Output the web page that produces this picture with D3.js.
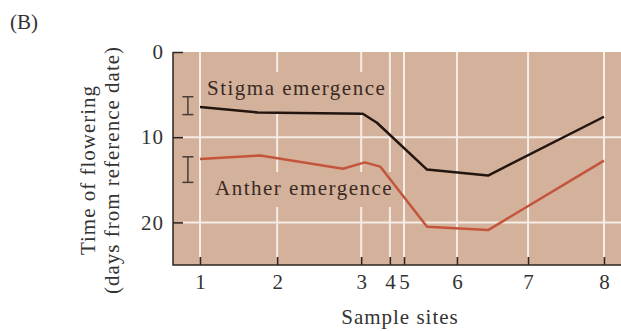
<!DOCTYPE html>
<html>
<head>
<meta charset="utf-8">
<script src="https://cdn.jsdelivr.net/npm/d3@7"></script>
<style>
  body { margin: 0; background: #fff; }
  svg { display: block; }
  text { font-family: "Liberation Serif", serif; }
</style>
</head>
<body>
<script>
// site positions along the transect (relative distance, site 1 = 0, site 8 = 100)
var siteLabels = ["1", "2", "3", "4", "5", "6", "7", "8"];
var siteDist = [0, 19.1, 39.9, 47.0, 50.5, 63.6, 81.2, 100];

// stigma emergence (days from reference date)
var stigmaDist = [0, 14.3, 40.3, 43.8, 56.2, 71.3, 100];
var stigmaDays = [6.45, 7.1, 7.25, 8.3, 13.8, 14.5, 7.6];

// anther emergence
var antherDist = [0, 14.9, 35.4, 40.8, 44.6, 56.2, 71.3, 100];
var antherDays = [12.55, 12.15, 13.7, 12.95, 13.45, 20.5, 20.9, 12.75];

// representative error bars drawn at the left
var errDist = -3;
var errMean = [6.3, 13.8];
var errHalf = [1.05, 1.5];

var yTicks = [0, 10, 20];

var width = 621, height = 331;
var pLeft = 173, pRight = 621, pTop = 52, pBottom = 265;

var svg = d3.select("body").append("svg")
    .attr("width", width)
    .attr("height", height);

var x = d3.scaleLinear().domain([0, 100]).range([200, 604]);
var y = d3.scaleLinear().domain([0, 25]).range([pTop, pBottom]);

var bg = "#d3b19b";
var grid = "#f6ede6";
var ink = "#2e2420";

svg.append("rect")
    .attr("x", pLeft).attr("y", pTop)
    .attr("width", pRight - pLeft).attr("height", pBottom - pTop)
    .attr("fill", bg);

// gridlines
svg.append("g").selectAll("line")
    .data(siteDist)
    .enter().append("line")
      .attr("x1", function(d) { return x(d); })
      .attr("x2", function(d) { return x(d); })
      .attr("y1", pTop)
      .attr("y2", pBottom - 8)
      .attr("stroke", grid)
      .attr("stroke-width", 2);

svg.append("g").selectAll("line")
    .data([10, 20])
    .enter().append("line")
      .attr("x1", pLeft + 10)
      .attr("x2", pRight)
      .attr("y1", function(d) { return y(d); })
      .attr("y2", function(d) { return y(d); })
      .attr("stroke", grid)
      .attr("stroke-width", 2);

// series labels with plot-coloured backing that breaks the grid
function seriesLabel(txt, bx, by, bw, bh, tx, ty) {
  svg.append("rect")
      .attr("x", bx).attr("y", by)
      .attr("width", bw).attr("height", bh)
      .attr("fill", bg);
  svg.append("text")
      .attr("x", tx).attr("y", ty)
      .attr("font-size", 21)
      .attr("letter-spacing", 1.5)
      .attr("fill", "#3a2a24")
      .text(txt);
}
seriesLabel("Stigma emergence", 203, 72, 182, 40, 207, 95);
seriesLabel("Anther emergence", 212, 172, 180, 35, 215, 195);

// error bars
var errG = svg.append("g")
    .attr("stroke", "#4a3c34")
    .attr("stroke-width", 1.5)
    .attr("fill", "none");
errMean.forEach(function(m, i) {
  var cx = x(errDist);
  var y0 = y(m - errHalf[i]), y1 = y(m + errHalf[i]);
  errG.append("line").attr("x1", cx).attr("x2", cx).attr("y1", y0).attr("y2", y1);
  errG.append("line").attr("x1", cx - 5.5).attr("x2", cx + 5.5).attr("y1", y0).attr("y2", y0);
  errG.append("line").attr("x1", cx - 5.5).attr("x2", cx + 5.5).attr("y1", y1).attr("y2", y1);
});

// lines
var line = d3.line()
    .x(function(d) { return x(d[0]); })
    .y(function(d) { return y(d[1]); });

svg.append("path")
    .datum(d3.zip(antherDist, antherDays))
    .attr("d", line)
    .attr("fill", "none")
    .attr("stroke", "#c4553c")
    .attr("stroke-width", 2.5)
    .attr("stroke-linejoin", "round");

svg.append("path")
    .datum(d3.zip(stigmaDist, stigmaDays))
    .attr("d", line)
    .attr("fill", "none")
    .attr("stroke", "#22140f")
    .attr("stroke-width", 2.5)
    .attr("stroke-linejoin", "round");

// axes
var yAxis = svg.append("g")
    .attr("transform", "translate(" + pLeft + ",0)")
    .call(d3.axisLeft(y).tickValues(yTicks).tickFormat(d3.format("d"))
        .tickSizeInner(-10).tickSizeOuter(0).tickPadding(9));
yAxis.select(".domain").remove();
yAxis.selectAll(".tick line").attr("stroke", ink).attr("stroke-width", 1.5);
yAxis.selectAll(".tick text")
    .attr("font-family", "Liberation Serif, serif")
    .attr("font-size", 21)
    .attr("letter-spacing", 1)
    .attr("fill", "#333");

var xAxis = svg.append("g")
    .attr("transform", "translate(0," + pBottom + ")")
    .call(d3.axisBottom(x).tickValues(siteDist)
        .tickFormat(function(d, i) { return siteLabels[i]; })
        .tickSizeInner(-8).tickSizeOuter(0).tickPadding(9));
xAxis.select(".domain").remove();
xAxis.selectAll(".tick line").attr("stroke", ink).attr("stroke-width", 1.5);
xAxis.selectAll(".tick text")
    .attr("font-family", "Liberation Serif, serif")
    .attr("font-size", 21)
    .attr("fill", "#333");

svg.append("path")
    .attr("d", "M" + pLeft + "," + pTop + "V" + pBottom + "H" + pRight)
    .attr("fill", "none")
    .attr("stroke", ink)
    .attr("stroke-width", 1.5);

// titles
svg.append("text")
    .attr("x", 10).attr("y", 29)
    .attr("font-size", 21)
    .attr("fill", "#333")
    .text("(B)");

svg.append("text")
    .attr("x", 400).attr("y", 324)
    .attr("text-anchor", "middle")
    .attr("font-size", 21)
    .attr("letter-spacing", 1)
    .attr("fill", "#333")
    .text("Sample sites");

var yt = svg.append("text")
    .attr("transform", "translate(95,170) rotate(-90)")
    .attr("text-anchor", "middle")
    .attr("font-size", 21)
    .attr("letter-spacing", 1)
    .attr("fill", "#333");
yt.append("tspan").attr("x", 0).attr("y", 0).text("Time of flowering");
yt.append("tspan").attr("x", 0).attr("y", 24).text("(days from reference date)");
</script>
</body>
</html>
